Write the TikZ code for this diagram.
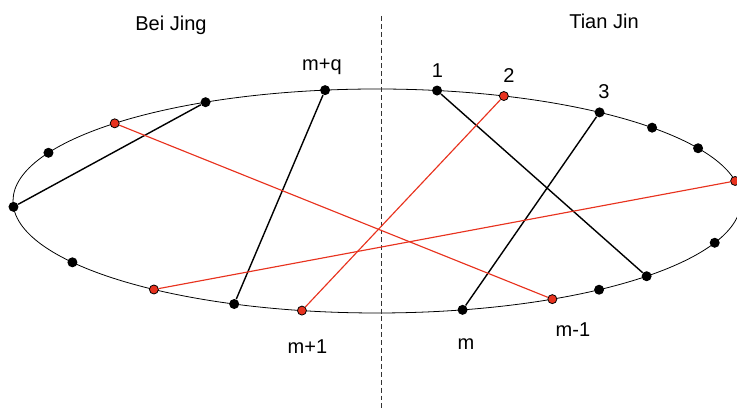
\documentclass[tikz,border=0pt]{standalone}
\usepackage{fontspec}
\setmainfont{Liberation Sans}
\usetikzlibrary{positioning}
\usepackage{xcolor}
\definecolor{chordred}{HTML}{E8321E}
\definecolor{cutgray}{HTML}{333333}

\tikzset{
  lbl/.style={font=\fontsize{11.4}{13}\selectfont, anchor=base, inner sep=0pt},
  dot/.style={circle, fill=black, inner sep=0pt, minimum size=0.2cm},
  rdot/.style={circle, fill=chordred, draw=black, line width=0.45pt, inner sep=0pt, minimum size=0.18cm},
  bchord/.style={black, line width=0.8pt},
  rchord/.style={chordred, line width=0.65pt}
}

\begin{document}
\begin{tikzpicture}
    \useasboundingbox (-7.54,-4.16) rectangle (7.2,4.02);
    % ring
    \draw[line width=0.45pt] (0,0) ellipse (7.28 and 2.24);
    \draw[cutgray, line width=0.45pt, dash pattern=on 2.8pt off 1.7pt] (0.08,3.70) -- (0.08,-4.16);
    \node[lbl] (bj) at (-4.12,3.40) {Bei Jing};
    \node[lbl] (tj) at (4.54,3.44) {Tian Jin};
    % stations on the ring
    \foreach \a/\n in {118.1/b1, 154.5/b2, 183/b3, 213.2/b4, 246.9/b5, 98.2/bq,
                       80.5/t1, 52.3/t3, 40.9/t4, 28.1/t5, 338.1/t6, 317.8/t7, 307.6/t8, 283.6/tm}
      \node[dot] (\n) at (\a:7.28 and 2.24) {};
    \foreach \a/\n in {136.1/r1, 232.2/r2, 258.1/rp, 69.6/t2, 10.3/r3, 298.8/tn}
      \node[rdot] (\n) at (\a:7.28 and 2.24) {};
    % chords
    \draw[bchord] (b3) -- (b1);
    \draw[bchord] (bq) -- (b5);
    \draw[bchord] (t1) -- (t7);
    \draw[bchord] (t3) -- (tm);
    \draw[rchord] (r1) -- (tn);
    \draw[rchord] (t2) -- (rp);
    \draw[rchord] (r3) -- (r2);
    % labels
    \node[lbl] at (-1.10,2.60) {m+q};
    \node[lbl] at (1.21,2.46) {1};
    \node[lbl] at (2.64,2.36) {2};
    \node[lbl] at (4.54,2.04) {3};
    \node[lbl] at (-1.39,-3.06) {m+1};
    \node[lbl] at (1.78,-2.98) {m};
    \node[lbl] at (3.92,-2.72) {m-1};
\end{tikzpicture}
\end{document}
